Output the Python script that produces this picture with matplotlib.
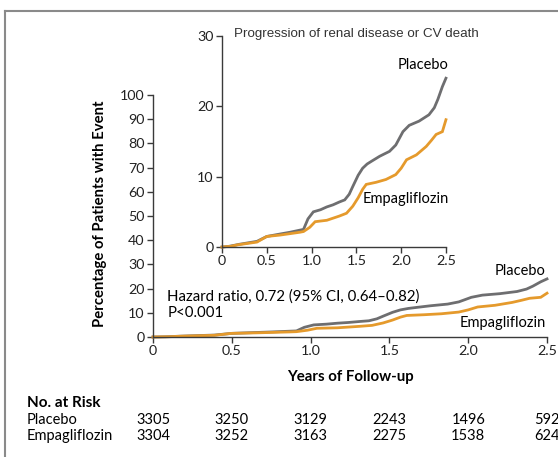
"""Cumulative incidence of renal progression or CV death, with zoomed inset."""

import matplotlib
matplotlib.use("Agg")
import matplotlib.pyplot as plt
from matplotlib.lines import Line2D

# cumulative event curves (years, percent)
placebo_years = [0.0, 0.08, 0.2, 0.39, 0.5, 0.65, 0.76, 0.87, 0.91, 0.96, 1.02,
                 1.10, 1.17, 1.24, 1.31, 1.37, 1.42, 1.46, 1.52, 1.57, 1.62,
                 1.67, 1.76, 1.87, 1.94, 2.02, 2.09, 2.20, 2.31, 2.37, 2.41,
                 2.46, 2.5]
placebo_pct = [0.0, 0.1, 0.4, 0.8, 1.5, 1.85, 2.1, 2.4, 2.5, 4.0, 5.0,
               5.3, 5.7, 6.0, 6.4, 6.7, 7.5, 8.6, 10.2, 11.2, 11.8,
               12.2, 12.9, 13.6, 14.5, 16.4, 17.3, 17.9, 18.8, 19.8, 21.0,
               22.8, 24.0]
empa_years = [0.0, 0.1, 0.17, 0.39, 0.5, 0.65, 0.87, 0.91, 0.98, 1.04, 1.17,
              1.24, 1.31, 1.39, 1.46, 1.52, 1.57, 1.61, 1.72, 1.83, 1.94, 2.0,
              2.06, 2.17, 2.28, 2.34, 2.39, 2.46, 2.5]
empa_pct = [0.0, 0.1, 0.3, 0.7, 1.5, 1.7, 2.1, 2.2, 2.8, 3.6, 3.8,
            4.1, 4.4, 4.8, 5.8, 7.0, 8.2, 8.9, 9.2, 9.6, 10.3, 11.2,
            12.4, 13.1, 14.3, 15.2, 16.0, 16.4, 18.1]

# numbers at risk
risk_years = [0.0, 0.5, 1.0, 1.5, 2.0, 2.5]
risk_placebo = [3305, 3250, 3129, 2243, 1496, 592]
risk_empa = [3304, 3252, 3163, 2275, 1538, 624]

GRAY = "#6e6e70"
ORANGE = "#e59a2c"
SPINE = "#3a3a3a"
FONT = ["Lato", "DejaVu Sans"]

plt.rcParams["font.family"] = FONT
plt.rcParams["axes.linewidth"] = 1.0
plt.rcParams["axes.edgecolor"] = SPINE
plt.rcParams["xtick.color"] = SPINE
plt.rcParams["ytick.color"] = SPINE
plt.rcParams["xtick.labelcolor"] = "#222222"
plt.rcParams["ytick.labelcolor"] = "#222222"

fig = plt.figure(figsize=(5.58, 4.57), dpi=100)
fig.patch.set_facecolor("white")


def style_axes(ax, ylim, yticks):
    ax.set_xlim(0, 2.5)
    ax.set_ylim(*ylim)
    ax.set_xticks(risk_years)
    ax.set_xticklabels(["0", "0.5", "1.0", "1.5", "2.0", "2.5"])
    ax.set_yticks(yticks)
    for s in ("top", "right"):
        ax.spines[s].set_visible(False)
    ax.tick_params(direction="out", length=4, width=1.0, labelsize=10.3, pad=2)
    ax.set_facecolor("none")


def draw_curves(ax):
    ax.plot(placebo_years, placebo_pct, color=GRAY, lw=2.0, clip_on=False,
            solid_joinstyle="miter")
    ax.plot(empa_years, empa_pct, color=ORANGE, lw=2.0, clip_on=False,
            solid_joinstyle="miter")


# main panel
ax = fig.add_axes([0.2742, 0.2626, 0.7061, 0.5295])
style_axes(ax, (0, 100), range(0, 101, 10))
draw_curves(ax)
ax.set_xlabel("Years of Follow-up", fontsize=10.8, fontweight="bold", labelpad=9)
ax.text(-0.335, 51, "Percentage of Patients with Event", rotation=90,
        ha="center", va="center", fontsize=10.7, fontweight="bold",
        rotation_mode="anchor", clip_on=False)
ax.text(0.09, 13.5, "Hazard ratio, 0.72 (95% CI, 0.64\u20130.82)\nP<0.001",
        fontsize=10.8, ha="left", va="center", linespacing=1.2)
ax.text(2.49, 24.5, "Placebo", fontsize=10.5, ha="right", va="bottom")
ax.text(2.49, 8.5, "Empagliflozin", fontsize=10.5, ha="right", va="top")

# inset panel
ins = fig.add_axes([0.3978, 0.4595, 0.4014, 0.4617])
style_axes(ins, (0, 30), [0, 10, 20, 30])
draw_curves(ins)
ins.text(0.13, 30.3, "Progression of renal disease or CV death",
         fontsize=9.6, family="Liberation Sans", color="#333333",
         ha="left", va="center")
ins.text(2.53, 24.9, "Placebo", fontsize=10.5, ha="right", va="bottom")
ins.text(2.53, 5.8, "Empagliflozin", fontsize=10.5, ha="right", va="bottom")

# numbers at risk table
fig.text(27 / 558, 1 - 403 / 457, "No. at Risk", fontsize=11, fontweight="bold",
         ha="left", va="center")
for row_y, name, counts in ((420, "Placebo", risk_placebo),
                            (436, "Empagliflozin", risk_empa)):
    yf = 1 - row_y / 457
    fig.text(27 / 558, yf, name, fontsize=10.5, ha="left", va="center")
    for yr, n in zip(risk_years, counts):
        xf = ax.transData.transform((yr, 0))[0] / fig.bbox.width
        fig.text(xf, yf, f"{n}", fontsize=10.5, ha="center", va="center")

# frame lines along the top and left
fig.add_artist(Line2D([5 / 558, 5 / 558], [0, 1 - 11 / 457], color="#8a8a8a",
                      lw=1.5, transform=fig.transFigure))
fig.add_artist(Line2D([5 / 558, 1], [1 - 11 / 457, 1 - 11 / 457],
                      color="#8a8a8a", lw=1.5, transform=fig.transFigure))

fig.savefig("out.png", dpi=100)
